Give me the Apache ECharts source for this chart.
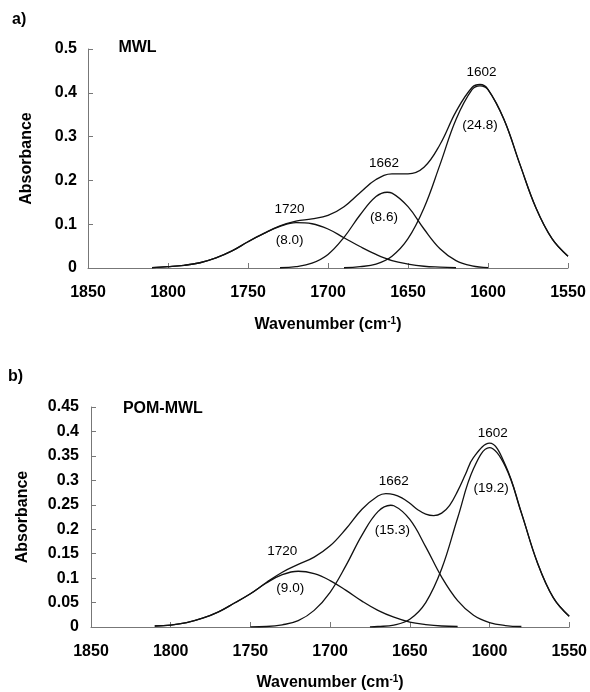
<!DOCTYPE html>
<html>
<head>
<meta charset="utf-8">
<script src="https://cdn.jsdelivr.net/npm/echarts@6/dist/echarts.min.js"></script>
<style>
  html, body { margin: 0; padding: 0; background: #fff; }
  #chart { width: 590px; height: 692px; }
</style>
</head>
<body>
<div id="chart"></div>
<script>
// FTIR band deconvolution, MWL (a) and POM-MWL (b)
// [wavenumber, absorbance] pairs

// a) MWL
var mwlSum = [[1810,0.001],[1800,0.003],[1790,0.006],[1780,0.012],[1770,0.023],[1760,0.039],[1750,0.060],[1740,0.079],[1730,0.096],[1720,0.107],[1710,0.112],[1700,0.120],[1690,0.140],[1680,0.172],[1670,0.202],[1660,0.215],[1650,0.215],[1640,0.230],[1630,0.282],[1620,0.357],[1610,0.412],[1605,0.419],[1600,0.408],[1590,0.339],[1580,0.236],[1570,0.137],[1560,0.067],[1550,0.027]];
var mwl1720 = [[1810,0.001],[1800,0.003],[1790,0.006],[1780,0.012],[1770,0.023],[1760,0.039],[1750,0.060],[1740,0.079],[1730,0.095],[1720,0.1035],[1710,0.101],[1700,0.089],[1690,0.069],[1680,0.049],[1670,0.031],[1660,0.017],[1650,0.009],[1640,0.004],[1630,0.002],[1620,0.0006]];
var mwl1662 = [[1730,0.0006],[1720,0.003],[1710,0.011],[1700,0.031],[1690,0.070],[1680,0.121],[1670,0.163],[1663,0.173],[1660,0.171],[1650,0.140],[1640,0.089],[1630,0.044],[1620,0.017],[1610,0.005],[1600,0.001]];
var mwl1602 = [[1690,0.0006],[1680,0.003],[1670,0.009],[1660,0.027],[1650,0.067],[1640,0.137],[1630,0.236],[1620,0.339],[1610,0.407],[1605,0.416],[1600,0.407],[1590,0.339],[1580,0.236],[1570,0.137],[1560,0.067],[1550,0.027]];

// b) POM-MWL
var pomSum = [[1810,0.002],[1800,0.004],[1790,0.009],[1780,0.018],[1770,0.031],[1760,0.049],[1750,0.068],[1740,0.091],[1730,0.112],[1720,0.128],[1710,0.143],[1700,0.166],[1690,0.201],[1680,0.241],[1670,0.268],[1665,0.273],[1660,0.271],[1655,0.264],[1650,0.253],[1645,0.240],[1640,0.231],[1635,0.228],[1630,0.233],[1625,0.249],[1620,0.278],[1615,0.313],[1610,0.347],[1600,0.376],[1590,0.331],[1580,0.234],[1570,0.132],[1560,0.060],[1550,0.022]];
var pom1720 = [[1810,0.002],[1800,0.004],[1790,0.009],[1780,0.018],[1770,0.031],[1760,0.049],[1750,0.068],[1740,0.090],[1730,0.107],[1720,0.114],[1710,0.109],[1700,0.095],[1690,0.075],[1680,0.053],[1670,0.034],[1660,0.020],[1650,0.010],[1640,0.005],[1630,0.002],[1620,0.001]];
var pom1662 = [[1750,0.0003],[1740,0.001],[1730,0.0045],[1720,0.013],[1710,0.034],[1700,0.071],[1690,0.126],[1680,0.188],[1670,0.236],[1662,0.249],[1660,0.248],[1650,0.220],[1640,0.164],[1630,0.102],[1620,0.054],[1610,0.024],[1600,0.009],[1590,0.003],[1580,0.001]];
var pom1602 = [[1675,0.0003],[1670,0.001],[1660,0.004],[1650,0.016],[1640,0.050],[1630,0.119],[1620,0.223],[1610,0.324],[1600,0.367],[1590,0.328],[1580,0.233],[1570,0.132],[1560,0.060],[1550,0.022]];

// band labels: [wavenumber, absorbance, text]
var mwlLabels = [[1724,0.133,'1720'],[1724,0.0625,'(8.0)'],[1665,0.238,'1662'],[1665,0.115,'(8.6)'],[1604,0.446,'1602'],[1605,0.325,'(24.8)']];
var pomLabels = [[1730,0.154,'1720'],[1725,0.079,'(9.0)'],[1660,0.299,'1662'],[1661,0.197,'(15.3)'],[1598,0.396,'1602'],[1599,0.283,'(19.2)']];
var mwlTitle = [1831, 0.503, 'MWL'];
var pomTitle = [1830, 0.447, 'POM-MWL'];

var xTicks = { min: 1550, max: 1850, step: 50 };
var yTicksA = { min: 0, max: 0.5, step: 0.1 };
var yTicksB = { min: 0, max: 0.45, step: 0.05 };

(function() {
  var chart = echarts.init(document.getElementById('chart'), null, { renderer: 'canvas' });
  var font = "'Liberation Sans', Arial, sans-serif";
  var ink = '#000';
  var axisGrey = '#777';

  function xAxis(gi, gap) {
    return {
      type: 'value', gridIndex: gi,
      min: xTicks.min, max: xTicks.max, interval: xTicks.step, inverse: true,
      name: '{t|Wavenumber (cm}{s|-1}{t|)}',
      nameLocation: 'middle', nameGap: gap,
      nameTextStyle: {
        rich: {
          t: { fontSize: 16, fontWeight: 'bold', color: ink, fontFamily: font },
          s: { fontSize: 10, fontWeight: 'bold', color: ink, fontFamily: font, verticalAlign: 'bottom', padding: [0, 0, 8, 0] }
        }
      },
      axisLine: { show: true, lineStyle: { color: axisGrey, width: 1 } },
      axisTick: { show: true, inside: true, length: 5, lineStyle: { color: axisGrey } },
      axisLabel: { fontSize: 16, fontWeight: 'bold', color: ink, fontFamily: font, margin: 17,
        formatter: function(v) { return String(v); } },
      splitLine: { show: false }
    };
  }

  function yAxis(gi, t, gap, margin) {
    return {
      type: 'value', gridIndex: gi,
      min: t.min, max: t.max, interval: t.step,
      name: 'Absorbance', nameLocation: 'middle', nameGap: gap, nameRotate: 90,
      nameTextStyle: { fontSize: 16, fontWeight: 'bold', color: ink, fontFamily: font },
      axisLine: { show: true, lineStyle: { color: axisGrey, width: 1 } },
      axisTick: { show: true, inside: true, length: 5, lineStyle: { color: axisGrey } },
      axisLabel: { fontSize: 16, fontWeight: 'bold', color: ink, fontFamily: font, margin: margin },
      splitLine: { show: false }
    };
  }

  function curve(data, gi) {
    return {
      type: 'line', xAxisIndex: gi, yAxisIndex: gi,
      data: data, smooth: 0.4, symbol: 'none', clip: false,
      lineStyle: { color: '#111', width: 1.3 }
    };
  }

  function labels(list, title, gi) {
    var data = list.map(function(d) {
      return { value: [d[0], d[1]], name: d[2] };
    });
    data.push({
      value: [title[0], title[1]], name: title[2],
      label: { align: 'left', fontSize: 16, fontWeight: 'bold', color: ink, fontFamily: font }
    });
    return {
      type: 'scatter', xAxisIndex: gi, yAxisIndex: gi,
      symbol: 'rect', symbolSize: 0, clip: false, silent: true,
      itemStyle: { color: '#fff', opacity: 1 },
      label: {
        show: true, position: 'inside', formatter: '{b}',
        fontSize: 13.5, color: ink, fontFamily: font,
        textBorderWidth: 0, opacity: 1
      },
      labelLayout: { hideOverlap: false },
      data: data
    };
  }

  chart.setOption({
    animation: false,
    backgroundColor: '#fff',
    textStyle: { fontFamily: font, color: ink },
    grid: [
      { left: 88, right: 22, top: 49, height: 219 },
      { left: 91, right: 19, top: 407, height: 225 }
    ],
    xAxis: [xAxis(0, 48), xAxis(1, 47)],
    yAxis: [yAxis(0, yTicksA, 53, 11), yAxis(1, yTicksB, 60, 12)],
    graphic: [
      { type: 'text', left: 12, top: 12, style: { text: 'a)', fontSize: 16, fontWeight: 'bold', fill: ink, fontFamily: font } },
      { type: 'text', left: 8, top: 369, style: { text: 'b)', fontSize: 16, fontWeight: 'bold', fill: ink, fontFamily: font } }
    ],
    series: [
      curve(mwlSum, 0), curve(mwl1720, 0), curve(mwl1662, 0), curve(mwl1602, 0),
      labels(mwlLabels, mwlTitle, 0),
      curve(pomSum, 1), curve(pom1720, 1), curve(pom1662, 1), curve(pom1602, 1),
      labels(pomLabels, pomTitle, 1)
    ]
  });
})();
</script>
</body>
</html>
